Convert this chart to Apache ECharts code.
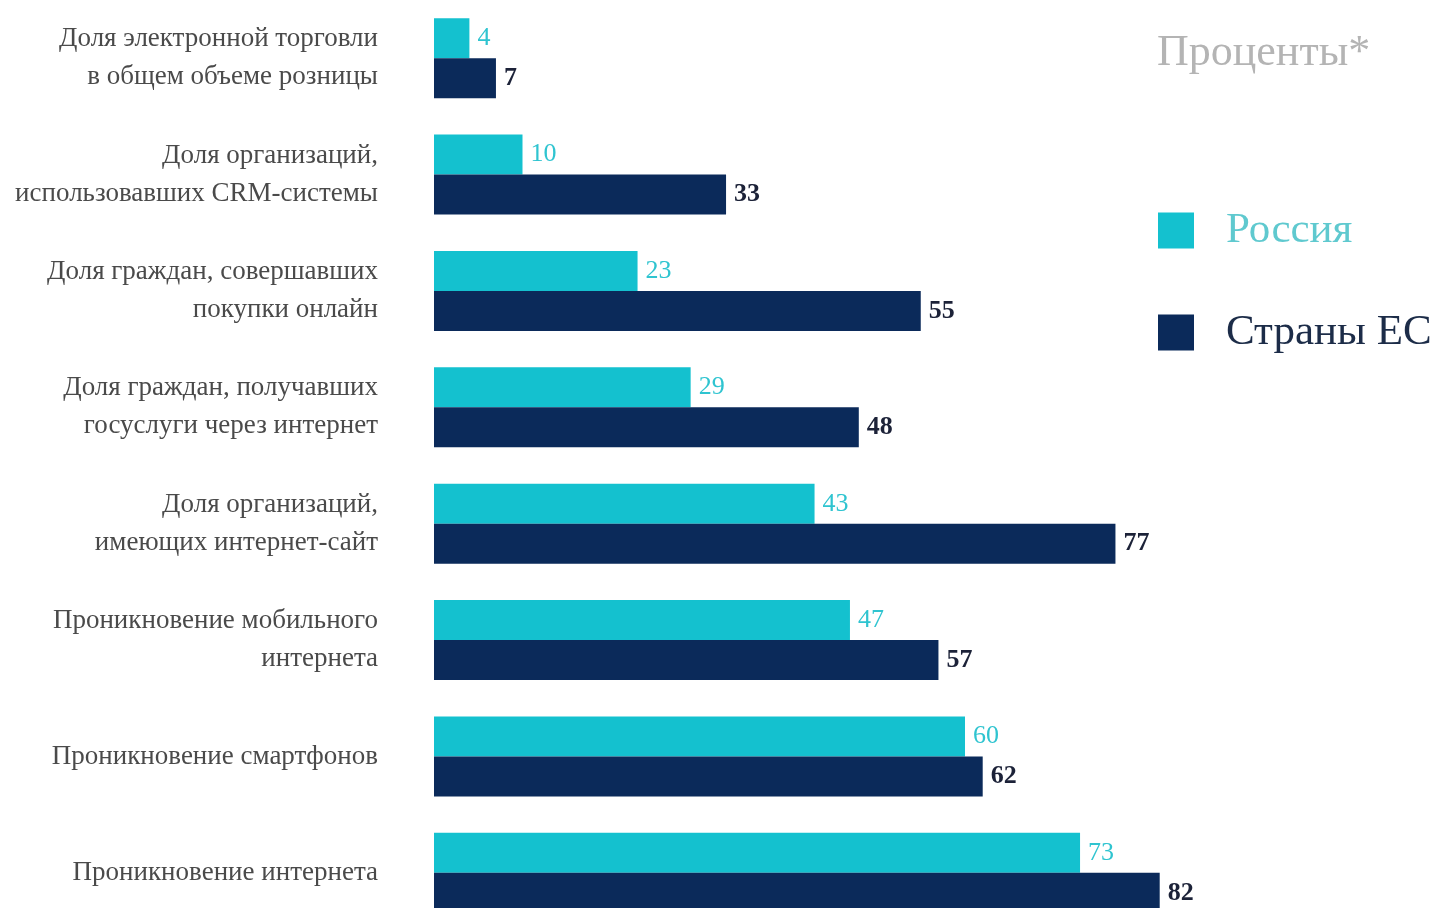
<!DOCTYPE html>
<html>
<head>
<meta charset="utf-8">
<script src="https://cdn.jsdelivr.net/npm/echarts@6/dist/echarts.min.js"></script>
<style>
  html, body { margin: 0; padding: 0; background: #fff; overflow: hidden; }
  #main-chart { width: 1433px; height: 932px; }
</style>
</head>
<body>
<div id="main-chart"></div>
<script>
const categories = [
  'Доля электронной торговли\nв общем объеме розницы',
  'Доля организаций,\nиспользовавших CRM-системы',
  'Доля граждан, совершавших\nпокупки онлайн',
  'Доля граждан, получавших\nгосуслуги через интернет',
  'Доля организаций,\nимеющих интернет-сайт',
  'Проникновение мобильного\nинтернета',
  'Проникновение смартфонов',
  'Проникновение интернета'
]
const legends = ['Россия', 'Страны ЕС']
const russia = [4, 10, 23, 29, 43, 47, 60, 73]
const eu = [7, 33, 55, 48, 77, 57, 62, 82]

const serif = '"Liberation Serif", "DejaVu Serif", serif'
const cyan = '#14c1cf'
const navy = '#0b2a5a'

let myChart = echarts.init(document.getElementById('main-chart'))
let option = {
  backgroundColor: '#fff',
  animation: false,
  title: {
    text: 'Проценты*',
    left: 1152,
    top: 26,
    textStyle: {
      fontFamily: serif,
      fontWeight: 'normal',
      fontSize: 44,
      color: '#b4b4b4'
    }
  },
  legend: {
    orient: 'vertical',
    left: 1153,
    top: 204,
    itemWidth: 36,
    itemHeight: 36,
    itemGap: 59,
    icon: 'rect',
    data: [
      { name: legends[0], textStyle: { color: '#5fc9cf' } },
      { name: legends[1], textStyle: { color: '#1c2c48' } }
    ],
    textStyle: {
      fontFamily: serif,
      fontSize: 43,
      padding: [0, 0, 0, 27]
    }
  },
  grid: {
    left: 434,
    top: 0,
    width: 885,
    height: 931
  },
  xAxis: {
    type: 'value',
    min: 0,
    max: 100,
    show: false
  },
  yAxis: {
    type: 'category',
    data: categories,
    inverse: true,
    axisLine: { show: false },
    axisTick: { show: false },
    axisLabel: {
      margin: 56,
      fontFamily: serif,
      fontSize: 27,
      lineHeight: 38,
      padding: [4, 0, 0, 0],
      color: '#4a4a4a',
      align: 'right'
    }
  },
  series: [
    {
      name: legends[0],
      type: 'bar',
      data: russia,
      barWidth: 40,
      barGap: '0%',
      itemStyle: { color: cyan },
      label: {
        show: true,
        position: 'right',
        distance: 8,
        fontFamily: serif,
        fontSize: 26,
        color: '#2fc4d0'
      }
    },
    {
      name: legends[1],
      type: 'bar',
      data: eu,
      barWidth: 40,
      barGap: '0%',
      itemStyle: { color: navy },
      label: {
        show: true,
        position: 'right',
        distance: 8,
        fontFamily: serif,
        fontSize: 26,
        fontWeight: 'bold',
        color: '#1c2238'
      }
    }
  ]
}
myChart.setOption(option)
</script>
</body>
</html>
